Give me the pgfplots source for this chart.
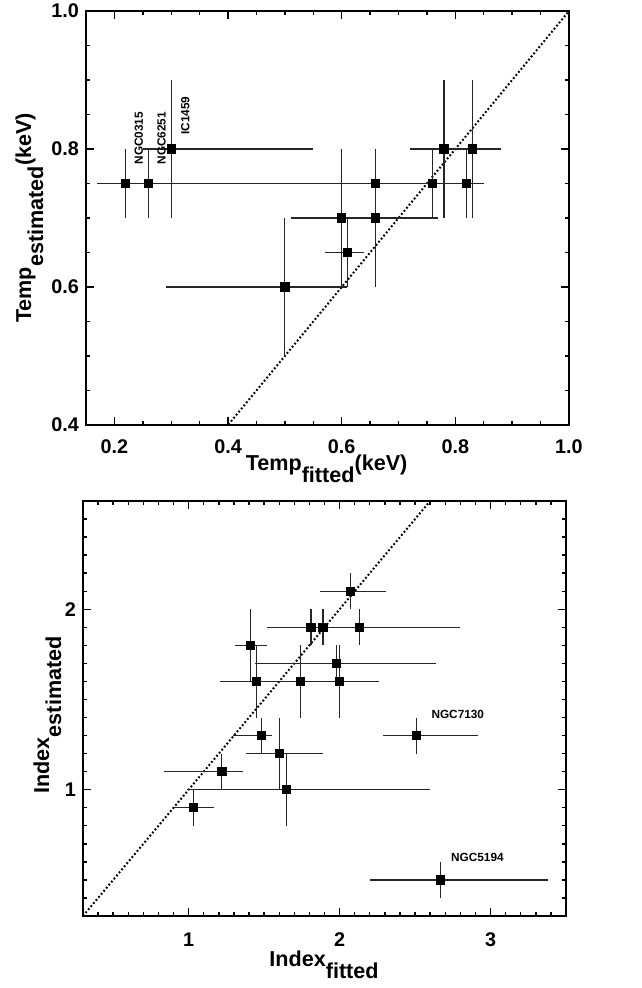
\documentclass[border=0pt]{standalone}
\usepackage{fontspec}
\setmainfont{Liberation Sans}
\usepackage{pgfplots}
\pgfplotsset{compat=1.18}
\pgfplotsset{
  idl/.style={
    scale only axis,
    axis line style={line width=1bp, black},
    every tick/.style={line width=0.7bp, black},
    tick align=inside,
    major tick length=4bp,
    minor tick length=2.2bp,
    /pgf/number format/assume math mode=true,
    tick label style={font=\fontsize{9.9bp}{11bp}\selectfont\bfseries},
    clip=true,
  },
  pts/.style={
    only marks, mark=square*, mark size=2.05bp, black,
    mark options={solid, fill=black},
    error bars/.cd,
      x dir=both, x explicit, y dir=both, y explicit,
      error mark=none,
      error bar style={line width=0.6bp, black!85},
  },
  diag/.style={black, line width=1bp, dash pattern=on 0.9bp off 1.1bp},
}
\begin{document}
\begin{tikzpicture}
\useasboundingbox (0,0) rectangle (321bp,494bp);
% ---------------- top panel ----------------
\begin{axis}[idl,
  at={(43bp,281.5bp)}, anchor=south west,
  width=241.5bp, height=207bp,
  xmin=0.15, xmax=1.0, ymin=0.4, ymax=1.0,
  xtick={0.2,0.4,0.6,0.8,1.0}, xticklabels={0.2,0.4,0.6,0.8,1.0},
  ytick={0.4,0.6,0.8,1.0}, yticklabels={0.4,0.6,0.8,1.0},
  minor xtick={0.15,0.25,0.3,0.35,0.45,0.5,0.55,0.65,0.7,0.75,0.85,0.9,0.95},
  minor ytick={0.45,0.5,0.55,0.65,0.7,0.75,0.85,0.9,0.95},
  xticklabel style={yshift=-3.8bp},
]
\addplot[diag] coordinates {(0.15,0.15) (1.0,1.0)};
\addplot[pts] table[x=x, y=y, x error minus=xm, x error plus=xp, y error minus=ym, y error plus=yp] {
x    y    xm   xp   ym   yp
0.22 0.75 0.05 0.23 0.05 0.05
0.26 0.75 0.06 0.32 0.05 0.05
0.30 0.80 0.05 0.25 0.10 0.10
0.50 0.60 0.21 0.11 0.10 0.10
0.60 0.70 0.09 0.17 0.10 0.10
0.61 0.65 0.04 0.03 0.05 0.05
0.66 0.75 0.08 0.06 0.05 0.05
0.66 0.70 0.08 0.11 0.10 0.10
0.76 0.75 0.06 0.09 0.05 0.05
0.78 0.80 0.06 0.10 0.10 0.10
0.82 0.75 0.04 0.03 0.05 0.05
0.83 0.80 0.05 0.05 0.10 0.10
};
\node[rotate=90, anchor=west, inner sep=0pt, font=\fontsize{5.9bp}{7bp}\selectfont\bfseries] at (axis cs:0.243,0.777) {NGC0315};
\node[rotate=90, anchor=west, inner sep=0pt, font=\fontsize{5.9bp}{7bp}\selectfont\bfseries] at (axis cs:0.283,0.777) {NGC6251};
\node[rotate=90, anchor=west, inner sep=0pt, font=\fontsize{5.9bp}{7bp}\selectfont\bfseries] at (axis cs:0.3246,0.820) {IC1459};
\end{axis}
% ---------------- bottom panel ----------------
\begin{axis}[idl,
  at={(41.5bp,36bp)}, anchor=south west,
  width=241.5bp, height=207.5bp,
  xmin=0.3, xmax=3.5, ymin=0.3, ymax=2.6,
  xtick={1,2,3}, xticklabels={1,2,3},
  ytick={1,2}, yticklabels={1,2},
  minor xtick={0.4,0.5,0.6,0.7,0.8,0.9,1.1,1.2,1.3,1.4,1.5,1.6,1.7,1.8,1.9,2.1,2.2,2.3,2.4,2.5,2.6,2.7,2.8,2.9,3.1,3.2,3.3,3.4},
  minor ytick={0.4,0.5,0.6,0.7,0.8,0.9,1.1,1.2,1.3,1.4,1.5,1.6,1.7,1.8,1.9,2.1,2.2,2.3,2.4,2.5},
  xticklabel style={yshift=-4.8bp},
]
\addplot[diag] coordinates {(0.3,0.3) (2.6,2.6)};
\addplot[pts] table[x=x, y=y, x error minus=xm, x error plus=xp, y error minus=ym, y error plus=yp] {
x    y    xm    xp   ym   yp
2.07 2.1  0.20  0.24 0.10 0.10
1.81 1.9  0.29  0.19 0.10 0.10
1.89 1.9  0.19  0.91 0.10 0.10
2.13 1.9  0.18  0.67 0.10 0.10
1.41 1.8  0.10  0.11 0.20 0.20
1.98 1.7  0.54  0.66 0.10 0.10
1.45 1.6  0.24  0.30 0.20 0.20
1.74 1.6  0.25  0.35 0.20 0.20
2.00 1.6  0.20  0.26 0.20 0.20
1.48 1.3  0.185 0.07 0.10 0.10
1.60 1.2  0.22  0.29 0.20 0.20
1.22 1.1  0.385 0.14 0.10 0.10
1.65 1.0  0.66  0.95 0.20 0.20
1.03 0.9  0.135 0.14 0.10 0.10
2.51 1.3  0.22  0.41 0.10 0.10
2.67 0.5  0.47  0.71 0.10 0.10
};
\node[anchor=center, inner sep=0pt, font=\fontsize{5.9bp}{7bp}\selectfont\bfseries] at (axis cs:2.783,1.418) {NGC7130};
\node[anchor=center, inner sep=0pt, font=\fontsize{5.9bp}{7bp}\selectfont\bfseries] at (axis cs:2.913,0.623) {NGC5194};
\end{axis}
% ---------------- axis titles ----------------
\node[anchor=base, inner sep=0pt, font=\fontsize{10.8bp}{12bp}\selectfont\bfseries] at (163.3bp,258.6bp) {Temp\raisebox{-6bp}{fitted}(keV)};
\node[rotate=90, anchor=base, inner sep=0pt, font=\fontsize{10.8bp}{12bp}\selectfont\bfseries] at (15.5bp,385bp) {Temp\raisebox{-6bp}{estimated}(keV)};
\node[anchor=base, inner sep=0pt, font=\fontsize{10.8bp}{12bp}\selectfont\bfseries] at (162bp,10.7bp) {Index\raisebox{-6bp}{fitted}};
\node[rotate=90, anchor=base, inner sep=0pt, font=\fontsize{10.8bp}{12bp}\selectfont\bfseries] at (24.5bp,136.5bp) {Index\raisebox{-6bp}{estimated}};
\end{tikzpicture}
\end{document}
